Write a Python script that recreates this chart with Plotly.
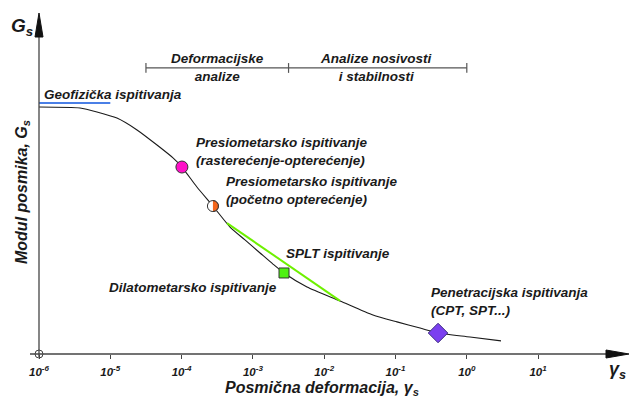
import numpy as np
import plotly.graph_objects as go

# ---------------- data ----------------
curve_strain = [1e-6, 3.76e-6, 6.5e-6, 1.24e-5, 2.37e-5, 4.52e-5, 7.57e-5, 1.01e-4,
                1.64e-4, 2.75e-4, 4.78e-4, 7.74e-4, 1.26e-3, 1.91e-3, 2.73e-3, 5.74e-3,
                1.67e-2, 4.83e-2, 0.105, 0.221, 0.395, 1.11, 3.02]
curve_G = [1.000, 0.996, 0.980, 0.955, 0.907, 0.846, 0.794, 0.757,
           0.676, 0.599, 0.514, 0.462, 0.409, 0.364, 0.328, 0.271,
           0.215, 0.158, 0.130, 0.105, 0.085, 0.069, 0.053]

geo_strain = [1e-6, 1e-5]
geo_G = [1.016, 1.016]

splt_line_strain = [4.33e-4, 1.67e-2]
splt_line_G = [0.530, 0.215]

pressio_unload = (1.01e-4, 0.757)
pressio_initial = (2.75e-4, 0.599)
dilato_point = (2.73e-3, 0.328)
penetr_point = (0.395, 0.085)

bracket_strain = [10 ** -4.5, 10 ** -2.5, 1.0]
bracket_G = 1.158

tick_vals = [1e-6, 1e-5, 1e-4, 1e-3, 1e-2, 1e-1, 1e0, 1e1]
tick_text = ["10<sup>-6</sup>", "10<sup>-5</sup>", "10<sup>-4</sup>", "10<sup>-3</sup>",
             "10<sup>-2</sup>", "10<sup>-1</sup>", "10<sup>0</sup>", "10<sup>1</sup>"]

# ---------------- geometry helpers ----------------
W, H = 629, 400
L, R, T, B = 39, 629, 13, 354          # plot area in pixels
PX_DECADE = 71.3
PX_UNIT_Y = 247.0
XR = [-6, -6 + (R - L) / PX_DECADE]
YR = [0, (B - T) / PX_UNIT_Y]


def px(x):
    return (x - L) / (R - L)


def py(y):
    return (B - y) / (B - T)


FONT = "Liberation Sans, Arial, sans-serif"
INK = "#1a1a1a"
AX = "#444444"

fig = go.Figure()

# main curve
fig.add_trace(go.Scatter(x=curve_strain, y=curve_G, mode="lines",
                         line=dict(color=INK, width=1.1, shape="spline", smoothing=0.6),
                         hoverinfo="skip", cliponaxis=False))
# geophysical blue line
fig.add_trace(go.Scatter(x=geo_strain, y=geo_G, mode="lines",
                         line=dict(color="#4a7fe6", width=2), cliponaxis=False))
# SPLT green line
fig.add_trace(go.Scatter(x=splt_line_strain, y=splt_line_G, mode="lines",
                         line=dict(color="#6ef000", width=2)))
# bracket line on top
fig.add_trace(go.Scatter(x=[bracket_strain[0], bracket_strain[-1]], y=[bracket_G, bracket_G],
                         mode="lines", line=dict(color="#555555", width=1.3)))
fig.add_trace(go.Scatter(x=bracket_strain, y=[bracket_G] * 3, mode="markers",
                         marker=dict(symbol="line-ns", size=7, line=dict(color="#555555", width=1.2))))

# markers
fig.add_trace(go.Scatter(x=[pressio_unload[0]], y=[pressio_unload[1]], mode="markers",
                         marker=dict(symbol="circle", size=12, color="#ff10c8",
                                     line=dict(color="#333333", width=1))))
fig.add_trace(go.Scatter(x=[pressio_initial[0]], y=[pressio_initial[1]], mode="markers",
                         marker=dict(symbol="circle", size=11, color="white",
                                     line=dict(color="#333333", width=1))))
# right (orange) half of the initial-loading pressiometer marker, sized in pixels
r = 5.5
t = np.linspace(-np.pi / 2, np.pi / 2, 25)
half_x = 10 ** (np.log10(pressio_initial[0]) + r * np.cos(t) / PX_DECADE)
half_y = pressio_initial[1] + r * np.sin(t) / PX_UNIT_Y
fig.add_trace(go.Scatter(x=half_x, y=half_y, mode="lines", fill="toself",
                         fillcolor="#f4661c", line=dict(color="#333333", width=1),
                         hoverinfo="skip"))
fig.add_trace(go.Scatter(x=[dilato_point[0]], y=[dilato_point[1]], mode="markers",
                         marker=dict(symbol="square", size=10, color="#4ef012",
                                     line=dict(color="#333333", width=1))))
fig.add_trace(go.Scatter(x=[penetr_point[0]], y=[penetr_point[1]], mode="markers",
                         marker=dict(symbol="diamond", size=15, color="#7b40f0",
                                     line=dict(color="#3a2a80", width=1))))
# origin circle
fig.add_trace(go.Scatter(x=[tick_vals[0]], y=[0], mode="markers", cliponaxis=False,
                         marker=dict(symbol="circle-open", size=8, color=AX,
                                     line=dict(color=AX, width=1))))

# axes lines and arrows (paper coords)
fig.add_shape(type="line", xref="paper", yref="paper", x0=px(30), x1=px(608), y0=0, y1=0,
              line=dict(color=AX, width=1.3))
fig.add_shape(type="line", xref="paper", yref="paper", x0=0, x1=0, y0=py(357), y1=py(36),
              line=dict(color=AX, width=1.3))
fig.add_shape(type="path", xref="paper", yref="paper",
              path=f"M {px(606)},{py(350)} L {px(629)},{py(354)} L {px(606)},{py(358)} Z",
              fillcolor="#111111", line=dict(color="#111111", width=1))
fig.add_shape(type="path", xref="paper", yref="paper",
              path=f"M {px(35)},{py(37)} L {px(39)},{py(13)} L {px(43)},{py(37)} Z",
              fillcolor="#111111", line=dict(color="#111111", width=1))


def lab(text, x, y, size=13.5, xanchor="left", align="left", **kw):
    fig.add_annotation(text=text, xref="paper", yref="paper", x=px(x), y=py(y),
                       xanchor=xanchor, yanchor="middle", align=align, showarrow=False,
                       font=dict(family=FONT, size=size, color=INK, weight="bold", style="italic"),
                       **kw)


lab("Geofizička ispitivanja", 42, 94)
lab("Presiometarsko ispitivanje<br>(rasterećenje-opterećenje)", 194, 151)
lab("Presiometarsko ispitivanje<br>(početno opterećenje)", 224, 190)
lab("SPLT ispitivanje", 284, 253)
lab("Dilatometarsko ispitivanje", 107, 287)
lab("Penetracijska ispitivanja<br>(CPT, SPT...)", 429, 301)
lab("Deformacijske<br>analize", 217, 67, xanchor="center", align="center")
lab("Analize nosivosti<br>i stabilnosti", 376, 67, xanchor="center", align="center")
lab("G<sub>s</sub>", 22, 27, size=19, xanchor="center")
lab("γ<sub>s</sub>", 617, 370, size=18, xanchor="center")
lab("Posmična deformacija, γ<sub>s</sub>", 322, 389, size=16, xanchor="center")
lab("Modul posmika, G<sub>s</sub>", 22, 192, size=16, xanchor="center", textangle=-90)

fig.update_layout(
    width=W, height=H, showlegend=False,
    margin=dict(l=L, r=W - R, t=T, b=H - B, pad=0),
    paper_bgcolor="white", plot_bgcolor="white",
    xaxis=dict(type="log", range=XR, showgrid=False, zeroline=False, showline=False,
               tickvals=tick_vals, ticktext=tick_text, ticks="outside", ticklen=4,
               tickcolor=AX, tickwidth=1, ticklabelstandoff=3,
               tickfont=dict(family=FONT, size=11.5, color=INK, weight="bold", style="italic")),
    yaxis=dict(range=YR, showgrid=False, zeroline=False, showline=False,
               showticklabels=False, ticks=""),
)

fig.write_html("out.html", config={"displayModeBar": False},
               post_script="document.body.style.margin='0px';document.body.style.padding='0px';"
                           "document.body.style.overflow='hidden';")
